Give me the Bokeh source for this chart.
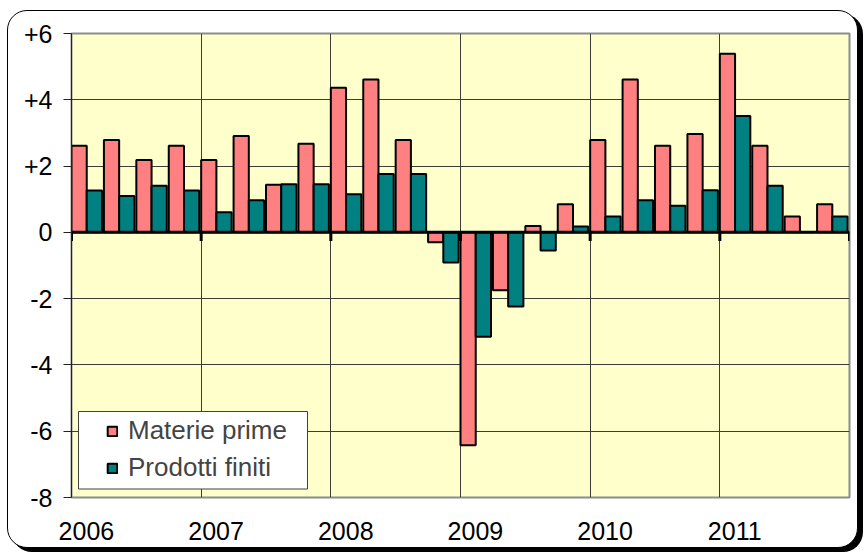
import numpy as np
from bokeh.plotting import figure
from bokeh.models import (Range1d, FixedTicker, Span, Legend, LegendItem,
                          BoxAnnotation, ColumnDataSource)
from bokeh.embed import file_html
from bokeh.resources import INLINE

# ---------------- data ----------------
years = ["2006", "2007", "2008", "2009", "2010", "2011"]
quarters_per_year = 4
series_names = ["Materie prime", "Prodotti finiti"]
materie_prime = [2.61, 2.79, 2.18, 2.61,
                 2.18, 2.91, 1.44, 2.67,
                 4.36, 4.61, 2.79, -0.30,
                 -6.42, -1.75, 0.19, 0.85,
                 2.79, 4.61, 2.61, 2.97,
                 5.39, 2.61, 0.48, 0.85]
prodotti_finiti = [1.26, 1.10, 1.41, 1.26,
                   0.61, 0.97, 1.45, 1.45,
                   1.15, 1.76, 1.76, -0.91,
                   -3.15, -2.24, -0.55, 0.18,
                   0.48, 0.97, 0.80, 1.27,
                   3.51, 1.41, 0.00, 0.48]
y_ticks = [-8, -6, -4, -2, 0, 2, 4, 6]
y_tick_labels = ["-8", "-6", "-4", "-2", "0", "+2", "+4", "+6"]

FONT = "Liberation Sans"
PINK = "#FF8080"
TEAL = "#008080"

n = len(materie_prime)
idx = np.arange(n)
src = ColumnDataSource(dict(x_mp=idx + 0.235, x_pf=idx + 0.705,
                            mp=materie_prime, pf=prodotti_finiti))

p = figure(width=851, height=538, output_backend="svg", toolbar_location=None,
           x_range=Range1d(0, n), y_range=Range1d(y_ticks[0], y_ticks[-1]),
           min_border_left=63, min_border_right=10, min_border_top=22,
           min_border_bottom=52,
           background_fill_color="#FFFFCC", border_fill_color=None,
           outline_line_color="#8c8c8c", outline_line_width=2)
p.styles = {"border": "1px solid black", "border-radius": "20px",
            "box-shadow": "5px 4px 0 0 black", "overflow": "hidden",
            "background": "white", "margin-left": "7px", "margin-top": "10px"}

# grids
year_bounds = list(range(0, n + 1, quarters_per_year))
p.xgrid.ticker = FixedTicker(ticks=year_bounds)
p.xgrid.grid_line_color = "#3c3c3c"
p.xgrid.grid_line_width = 1
p.ygrid.grid_line_color = "#3c3c3c"
p.ygrid.grid_line_width = 1

# x axis (labels only, placed a bit right of the year boundary)
label_pos = [i * quarters_per_year + 0.46 for i in range(len(years))]
p.xaxis.ticker = FixedTicker(ticks=label_pos)
p.xaxis.major_label_overrides = {pos: yr for pos, yr in zip(label_pos, years)}
p.xaxis.axis_line_color = None
p.xaxis.major_tick_line_color = None
p.xaxis.minor_tick_line_color = None
p.xaxis.major_label_standoff = 18
p.xaxis.major_label_text_font = FONT
p.xaxis.major_label_text_font_size = "25px"
p.xaxis.major_label_text_color = "black"

# y axis
p.yaxis.ticker = FixedTicker(ticks=y_ticks)
p.yaxis.major_label_overrides = {t: s for t, s in zip(y_ticks, y_tick_labels)}
p.yaxis.axis_line_color = "#222222"
p.yaxis.axis_line_width = 1
p.yaxis.major_tick_out = 8
p.yaxis.major_tick_in = 0
p.yaxis.major_tick_line_color = "#222222"
p.yaxis.minor_tick_line_color = None
p.yaxis.major_label_standoff = 11
p.yaxis.major_label_text_font = FONT
p.yaxis.major_label_text_font_size = "25px"
p.yaxis.major_label_text_color = "black"

# bars
r_mp = p.vbar(x="x_mp", top="mp", bottom=0, width=0.47, source=src,
              fill_color=PINK, line_color="black", line_width=2)
r_pf = p.vbar(x="x_pf", top="pf", bottom=0, width=0.47, source=src,
              fill_color=TEAL, line_color="black", line_width=2)

# zero line with year tick marks
p.add_layout(Span(location=0, dimension="width", line_color="black", line_width=3))
p.segment(x0=year_bounds, x1=year_bounds, y0=[0] * len(year_bounds),
          y1=[-0.26] * len(year_bounds), line_color="black", line_width=3)

# legend box + legend
box = BoxAnnotation(left=7, right=236, bottom=8.5, top=86,
                    left_units="screen", right_units="screen",
                    top_units="screen", bottom_units="screen",
                    fill_color="white", fill_alpha=1.0,
                    line_color="#404040", line_width=1, line_alpha=1.0)
p.add_layout(box)

legend = Legend(items=[LegendItem(label=series_names[0], renderers=[r_mp]),
                       LegendItem(label=series_names[1], renderers=[r_pf])],
                location=(29, 8), padding=6, spacing=6,
                glyph_width=12, glyph_height=12, label_standoff=10,
                label_text_font=FONT, label_text_font_size="26px",
                background_fill_alpha=0, border_line_alpha=0)
p.add_layout(legend)

open("out.html", "w").write(file_html(p, INLINE))
